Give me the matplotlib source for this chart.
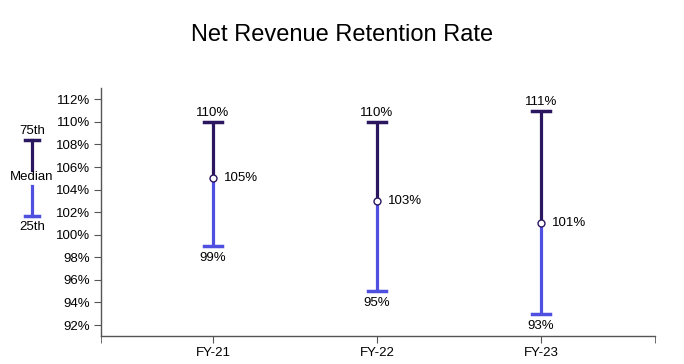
import matplotlib.pyplot as plt
from matplotlib.lines import Line2D

plt.rcParams['font.family'] = ['Liberation Sans', 'DejaVu Sans']

# data
years = ['FY-21', 'FY-22', 'FY-23']
p75 = [110, 110, 111]
median = [105, 103, 101]
p25 = [99, 95, 93]
yticks = list(range(92, 113, 2))

dark = '#2b1660'
blue = '#4f4fe0'
axis_col = '#555555'

fig = plt.figure(figsize=(6.84, 3.64), dpi=100)
ax = fig.add_axes([101 / 684, 1 - 336 / 364, 554 / 684, 248 / 364])
fig.text(0.5, 1 - 35 / 364, 'Net Revenue Retention Rate', ha='center', va='center', fontsize=17)

xs = list(range(len(years)))
cap = 0.055
for x, hi, med, lo in zip(xs, p75, median, p25):
    ax.plot([x, x], [med, hi], color=dark, lw=2.3, solid_capstyle='butt', zorder=2)
    ax.plot([x, x], [lo, med], color=blue, lw=2.3, solid_capstyle='butt', zorder=2)
    ax.plot([x - cap, x + cap], [hi, hi], color=dark, lw=2.5, zorder=2)
    ax.plot([x - cap, x + cap], [lo, lo], color=blue, lw=2.5, zorder=2)
    ax.plot([x], [med], marker='o', ms=5, mfc='white', mec=dark, mew=1, zorder=3)
    ax.annotate(f'{hi}%', (x, hi), xytext=(0, 2), textcoords='offset points',
                ha='center', va='bottom', fontsize=9.5)
    ax.annotate(f'{lo}%', (x, lo), xytext=(0, -4.5), textcoords='offset points',
                ha='center', va='top', fontsize=9.5)
    ax.annotate(f'{med}%', (x, med), xytext=(8, 0), textcoords='offset points',
                ha='left', va='center', fontsize=9.5)

ax.set_xlim(-0.683, 2.695)
ax.set_ylim(91.03, 113)
ax.set_xticks(xs)
ax.set_xticklabels(years)
ax.set_xticks([-0.683, 2.695], minor=True)
ax.tick_params(axis='x', which='minor', length=5, color=axis_col)
ax.set_yticks(yticks)
ax.set_yticklabels([f'{v}%' for v in yticks])
ax.tick_params(axis='both', which='major', labelsize=9.5, length=5, color=axis_col, pad=3)
for s in ['top', 'right']:
    ax.spines[s].set_visible(False)
for s in ['left', 'bottom']:
    ax.spines[s].set_color(axis_col)
    ax.spines[s].set_linewidth(1)

# legend key drawn in figure pixels
def fx(px):
    return px / 684

def fy(py):
    return 1 - py / 364

lx = 32
fig.add_artist(Line2D([fx(lx), fx(lx)], [fy(140), fy(170)], color=dark, lw=2.3))
fig.add_artist(Line2D([fx(lx - 7), fx(lx + 7)], [fy(140), fy(140)], color=dark, lw=2.5))
fig.add_artist(Line2D([fx(lx), fx(lx)], [fy(186), fy(216)], color=blue, lw=2.3))
fig.add_artist(Line2D([fx(lx - 7), fx(lx + 7)], [fy(216), fy(216)], color=blue, lw=2.5))
fig.text(fx(lx), fy(131), '75th', ha='center', va='center', fontsize=9.5)
fig.text(fx(lx), fy(177), 'Median', ha='center', va='center', fontsize=9.5)
fig.text(fx(lx), fy(227), '25th', ha='center', va='center', fontsize=9.5)

fig.savefig('out.png', dpi=100)
